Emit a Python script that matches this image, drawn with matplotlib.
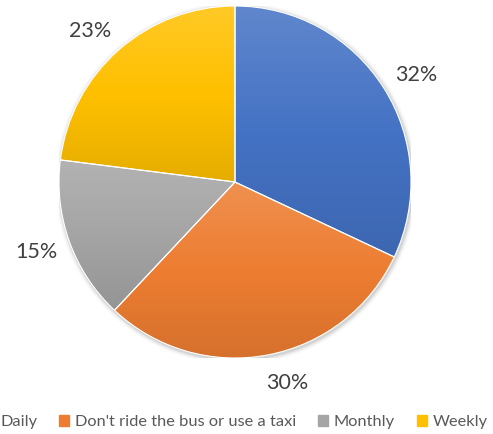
import numpy as np
import matplotlib.pyplot as plt
from matplotlib.colors import LinearSegmentedColormap, to_rgb

# 数据
labels = ["Daily", "Don't ride the bus or use a taxi", "Monthly", "Weekly"]
values = [32, 30, 15, 23]
colors = ["#4472C4", "#ED7D31", "#A5A5A5", "#FFC000"]

plt.rcParams['font.family'] = ['Lato', 'DejaVu Sans']

fig = plt.figure(figsize=(4.93, 4.34), dpi=100)
cx, cy, r = 235, 182, 176
ax = fig.add_axes([(cx - r) / 493, (434 - cy - r) / 434, 2 * r / 493, 2 * r / 434])
ax.set_xlim(-1, 1)
ax.set_ylim(-1, 1)
ax.set_aspect('equal')
ax.axis('off')

# 柔和阴影
for k, a in enumerate(np.linspace(0.06, 0.01, 5)):
    ax.add_patch(plt.Circle((0.006, -0.008), 1 + 0.006 * (k + 1), color='black',
                            alpha=a, lw=0, zorder=0))

wedges, texts, autotexts = ax.pie(
    values, colors=colors, startangle=90, counterclock=False, radius=1,
    autopct='%1.0f%%', pctdistance=1.2, labeldistance=None,
    wedgeprops=dict(linewidth=0.8, edgecolor='white'),
    textprops=dict(fontsize=15.5, color='#404040'))
ax.set_xlim(-1, 1)
ax.set_ylim(-1, 1)

# Excel 的最佳位置标签大致偏了一点角度
nudge = [-1.5, 3.5, -0.2, 2.0]
ang = 90 - 3.6 * (np.cumsum(values) - np.array(values) / 2)
for t, a, d in zip(autotexts, ang, nudge):
    rad = np.deg2rad(a + d)
    t.set_position((1.2 * np.cos(rad), 1.18 * np.sin(rad)))

# 上浅下深的渐变
for w, c in zip(wedges, colors):
    base = np.array(to_rgb(c))
    light = base + (1 - base) * 0.15
    dark = base * 0.9
    cmap = LinearSegmentedColormap.from_list('g', [dark, base, light])
    v = w.get_path().vertices
    x0, x1 = v[:, 0].min(), v[:, 0].max()
    y0, y1 = v[:, 1].min(), v[:, 1].max()
    grad = np.linspace(0, 1, 256).reshape(-1, 1)
    im = ax.imshow(grad, cmap=cmap, extent=[x0, x1, y0, y1], origin='lower',
                   aspect='auto', zorder=w.get_zorder() + 0.1, interpolation='bicubic')
    im.set_clip_path(w)
    ax.set_xlim(-1, 1)
    ax.set_ylim(-1, 1)

for w in wedges:
    w.set_facecolor('none')
    w.set_zorder(3)

handles = [plt.Rectangle((0, 0), 1, 1, color=c) for c in colors]
fig.legend(handles, labels, loc='center', ncol=4, frameon=False,
           bbox_to_anchor=(0.479, 0.027), fontsize=11.8, handlelength=0.6,
           handleheight=0.6, handletextpad=0.35, columnspacing=1.35,
           labelcolor='#595959')

fig.savefig('out.png', dpi=100)
